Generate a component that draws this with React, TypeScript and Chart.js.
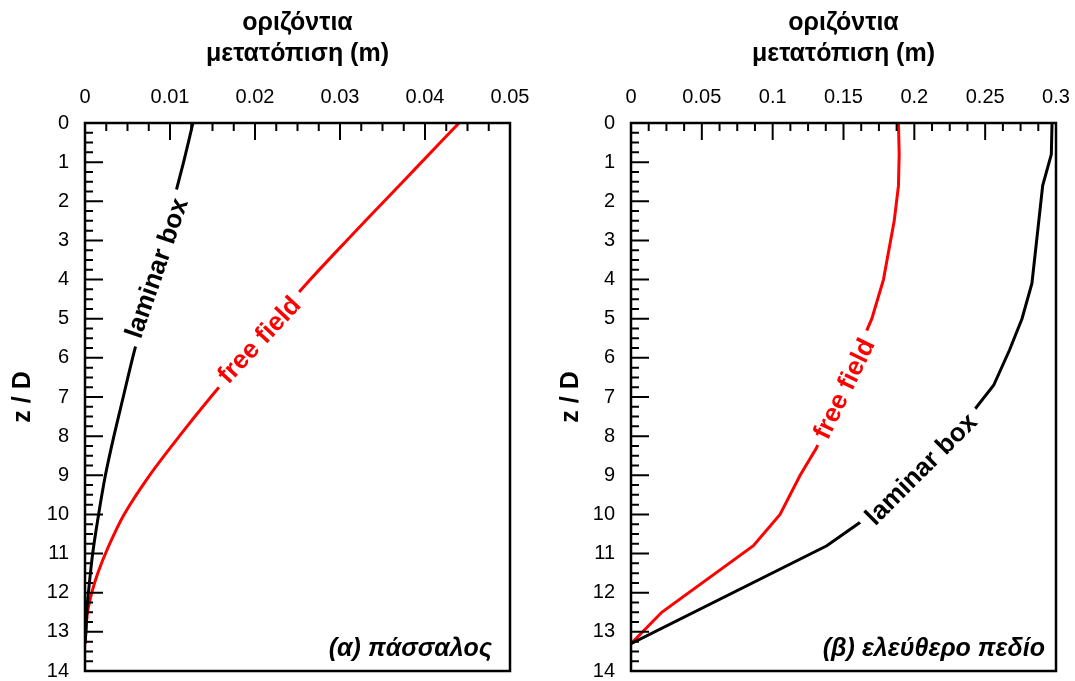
import { useEffect, useRef } from "react";
import { Chart, registerables } from "chart.js";

Chart.register(...registerables);

const FONT = "'Liberation Sans', Arial, Helvetica, sans-serif";

// ---- tick values / labels ----
const depthTicks = [0, 1, 2, 3, 4, 5, 6, 7, 8, 9, 10, 11, 12, 13, 14];
const depthTickLabels = ["0", "1", "2", "3", "4", "5", "6", "7", "8", "9", "10", "11", "12", "13", "14"];
const pileDispTicks = [0, 0.01, 0.02, 0.03, 0.04, 0.05];
const pileDispTickLabels = ["0", "0.01", "0.02", "0.03", "0.04", "0.05"];
const ffDispTicks = [0, 0.05, 0.1, 0.15, 0.2, 0.25, 0.3];
const ffDispTickLabels = ["0", "0.05", "0.1", "0.15", "0.2", "0.25", "0.3"];

const xAxisTitle = ["οριζόντια", "μετατόπιση (m)"];
const yAxisTitle = "z / D";

// ---- (α) πάσσαλος ----
const pileLaminarZ = [0, 1, 2, 3, 4, 5, 6, 7, 8, 9, 10, 11, 12, 12.5, 13, 13.3];
const pileLaminarX = [0.0127, 0.0116, 0.0104, 0.0092, 0.008, 0.0068, 0.0056, 0.0045, 0.0034, 0.0024, 0.0016, 0.0009, 0.0004, 0.0002, 0.0001, 0];
const pileFreeZ = [0, 1, 2, 3, 4, 5, 6, 7, 8, 9, 10, 10.8, 11.5, 12, 12.5, 13, 13.3];
const pileFreeX = [0.044, 0.0396, 0.0352, 0.0308, 0.0265, 0.0225, 0.0187, 0.0148, 0.0111, 0.0076, 0.0046, 0.0028, 0.0015, 0.0008, 0.0003, 0.0001, 0];

// ---- (β) ελεύθερο πεδίο ----
const ffLaminarZ = [0, 0.8, 1.6, 4.1, 5, 5.8, 6.7, 7.3, 10.2, 10.8, 13.3];
const ffLaminarX = [0.2972, 0.2967, 0.2906, 0.283, 0.276, 0.2672, 0.256, 0.243, 0.1618, 0.1382, 0];
const ffFreeZ = [0, 0.8, 1.6, 2.5, 4, 5, 8.3, 9, 10, 10.8, 12.5, 13.3];
const ffFreeX = [0.1888, 0.1893, 0.1888, 0.1858, 0.1782, 0.17, 0.131, 0.1194, 0.1052, 0.0864, 0.0217, 0];

const pileLineLabels = [
  { text: "laminar box", x: 0.00844, z: 3.71, angle: -71, color: "#000000" },
  { text: "free field", x: 0.0205, z: 5.54, angle: -47, color: "#ff0000" },
];
const ffLineLabels = [
  { text: "free field", x: 0.1505, z: 6.79, angle: -64, color: "#ff0000" },
  { text: "laminar box", x: 0.2048, z: 8.84, angle: -45, color: "#000000" },
];

const decorPlugin = {
  id: "decor",
  afterDatasetsDraw(chart: any, _args: any, opts: any) {
    const { ctx, chartArea: a } = chart;
    const x = chart.scales.x;
    const y = chart.scales.y;
    ctx.save();
    // in-line labels with white masks
    for (const L of opts.lineLabels || []) {
      const px = x.getPixelForValue(L.x);
      const py = y.getPixelForValue(L.z);
      ctx.save();
      ctx.translate(px, py);
      ctx.rotate((L.angle * Math.PI) / 180);
      ctx.font = `bold 26px ${FONT}`;
      const w = ctx.measureText(L.text).width;
      ctx.fillStyle = "#ffffff";
      ctx.fillRect(-w / 2 - 8, -13, w + 16, 26);
      ctx.fillStyle = L.color;
      ctx.textAlign = "center";
      ctx.textBaseline = "middle";
      ctx.fillText(L.text, 0, 1);
      ctx.restore();
    }
    // ticks (inward)
    ctx.strokeStyle = "#000";
    ctx.lineWidth = 2;
    ctx.beginPath();
    const xt = x.ticks.map((t: any) => t.value);
    for (let i = 0; i < xt.length; i++) {
      const p = x.getPixelForValue(xt[i]);
      ctx.moveTo(p, a.top);
      ctx.lineTo(p, a.top + 17);
      if (i < xt.length - 1) {
        for (let k = 1; k < 4; k++) {
          const q = x.getPixelForValue(xt[i] + ((xt[i + 1] - xt[i]) * k) / 4);
          ctx.moveTo(q, a.top);
          ctx.lineTo(q, a.top + 8);
        }
      }
    }
    const yt = y.ticks.map((t: any) => t.value);
    for (let i = 0; i < yt.length; i++) {
      const p = y.getPixelForValue(yt[i]);
      ctx.moveTo(a.left, p);
      ctx.lineTo(a.left + 18, p);
      if (i < yt.length - 1) {
        for (let k = 1; k < 4; k++) {
          const q = y.getPixelForValue(yt[i] + ((yt[i + 1] - yt[i]) * k) / 4);
          ctx.moveTo(a.left, q);
          ctx.lineTo(a.left + 8, q);
        }
      }
    }
    ctx.stroke();
    ctx.lineWidth = 2.5;
    ctx.strokeRect(a.left, a.top, a.right - a.left, a.bottom - a.top);
    // corner label
    ctx.fillStyle = "#000";
    ctx.font = `italic bold 25px ${FONT}`;
    ctx.textAlign = "right";
    ctx.textBaseline = "middle";
    ctx.fillText(opts.corner, a.right - opts.cornerDx, a.bottom - 22);
    ctx.restore();
  },
};

function zip(xs: number[], zs: number[]) {
  return xs.map((v, i) => ({ x: v, y: zs[i] }));
}

interface Panel {
  lamX: number[];
  lamZ: number[];
  freeX: number[];
  freeZ: number[];
  xTicks: number[];
  xLabels: string[];
  xMax: number;
  yAxisWidth: number;
  yTitlePad: number;
  padRight: number;
  tension: number;
  lineLabels: any[];
  corner: string;
  cornerDx: number;
}

function makeConfig(p: Panel): any {
  return {
    type: "scatter",
    data: {
      datasets: [
        {
          label: "laminar box",
          data: zip(p.lamX, p.lamZ),
          showLine: true,
          borderColor: "#000000",
          borderWidth: 3,
          pointRadius: 0,
          tension: p.tension,
        },
        {
          label: "free field",
          data: zip(p.freeX, p.freeZ),
          showLine: true,
          borderColor: "#ff0000",
          borderWidth: 3,
          pointRadius: 0,
          tension: p.tension,
        },
      ],
    },
    options: {
      responsive: false,
      animation: false,
      devicePixelRatio: 1,
      layout: { padding: { left: 0, top: 0, right: p.padRight, bottom: 10 } },
      plugins: {
        legend: { display: false },
        tooltip: { enabled: false },
        decor: { lineLabels: p.lineLabels, corner: p.corner, cornerDx: p.cornerDx },
      },
      scales: {
        x: {
          type: "linear",
          position: "top",
          min: 0,
          max: p.xMax,
          grid: { display: false, drawTicks: false },
          border: { display: false },
          afterBuildTicks: (s: any) => {
            s.ticks = p.xTicks.map((v) => ({ value: v }));
          },
          afterFit: (s: any) => {
            s.height = 123;
            s.paddingLeft = 0;
            s.paddingRight = 0;
            s.paddingTop = 0;
            s.paddingBottom = 0;
          },
          ticks: {
            autoSkip: false,
            maxRotation: 0,
            padding: 14,
            color: "#000",
            font: { family: FONT, size: 20 },
            callback: (_v: any, i: number) => p.xLabels[i],
          },
          title: {
            display: true,
            text: xAxisTitle,
            color: "#000",
            font: { family: FONT, size: 25, weight: "bold", lineHeight: 1.22 },
            padding: { top: 8, bottom: 0 },
          },
        },
        y: {
          type: "linear",
          position: "left",
          min: 0,
          max: 14,
          reverse: true,
          grid: { display: false, drawTicks: false },
          border: { display: false },
          afterBuildTicks: (s: any) => {
            s.ticks = depthTicks.map((v) => ({ value: v }));
          },
          afterFit: (s: any) => {
            s.width = p.yAxisWidth;
            s.paddingLeft = 0;
            s.paddingRight = 0;
            s.paddingTop = 0;
            s.paddingBottom = 0;
          },
          ticks: {
            autoSkip: false,
            padding: 16,
            color: "#000",
            font: { family: FONT, size: 20 },
            callback: (_v: any, i: number) => depthTickLabels[i],
          },
          title: {
            display: true,
            text: yAxisTitle,
            color: "#000",
            font: { family: FONT, size: 25, weight: "bold" },
            padding: { top: p.yTitlePad, bottom: 0 },
          },
        },
      },
    },
    plugins: [decorPlugin],
  };
}

function ChartPanel({ panel, width, left }: { panel: Panel; width: number; left: number }) {
  const ref = useRef<HTMLCanvasElement | null>(null);
  useEffect(() => {
    if (!ref.current) return;
    const chart = new Chart(ref.current, makeConfig(panel));
    return () => chart.destroy();
  }, [panel]);
  return (
    <canvas
      ref={ref}
      width={width}
      height={681}
      style={{ position: "absolute", left, top: 0, width, height: 681 }}
    />
  );
}

const pilePanel: Panel = {
  lamX: pileLaminarX,
  lamZ: pileLaminarZ,
  freeX: pileFreeX,
  freeZ: pileFreeZ,
  xTicks: pileDispTicks,
  xLabels: pileDispTickLabels,
  xMax: 0.05,
  yAxisWidth: 85,
  yTitlePad: 8,
  padRight: 27,
  tension: 0.3,
  lineLabels: pileLineLabels,
  corner: "(α) πάσσαλος",
  cornerDx: 18,
};

const ffPanel: Panel = {
  lamX: ffLaminarX,
  lamZ: ffLaminarZ,
  freeX: ffFreeX,
  freeZ: ffFreeZ,
  xTicks: ffDispTicks,
  xLabels: ffDispTickLabels,
  xMax: 0.3,
  yAxisWidth: 94,
  yTitlePad: 19,
  padRight: 19,
  tension: 0,
  lineLabels: ffLineLabels,
  corner: "(β) ελεύθερο πεδίο",
  cornerDx: 11,
};

export default function App() {
  return (
    <div
      style={{
        position: "fixed",
        left: 0,
        top: 0,
        width: 1075,
        height: 681,
        background: "#ffffff",
        overflow: "hidden",
      }}
    >
      <ChartPanel panel={pilePanel} width={537} left={0} />
      <ChartPanel panel={ffPanel} width={538} left={537} />
    </div>
  );
}
